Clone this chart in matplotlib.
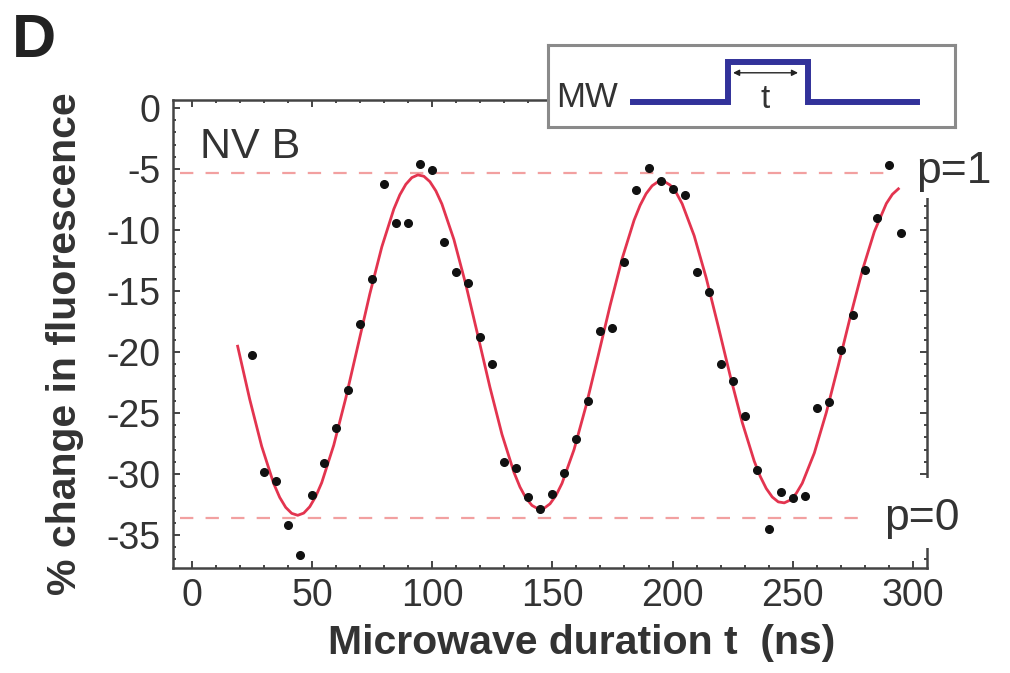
import matplotlib
matplotlib.use("Agg")
import matplotlib.pyplot as plt
from matplotlib.patches import Rectangle
from matplotlib.ticker import MultipleLocator

plt.rcParams['font.family'] = ['Liberation Sans', 'DejaVu Sans']
plt.rcParams['axes.unicode_minus'] = False

# measured points (microwave duration in ns, % change in fluorescence)
t_data = [25, 30, 35, 40, 45, 50, 55, 60, 65, 70, 75, 80, 85, 90, 95, 100,
          105, 110, 115, 120, 125, 130, 135, 140, 145, 150, 155, 160, 165,
          170, 175, 180, 185, 190, 195, 200, 205, 210, 215, 220, 225, 230,
          235, 240, 245, 250, 255, 260, 265, 270, 275, 280, 285, 290, 295]
f_data = [-20.2, -29.8, -30.6, -34.2, -36.6, -31.7, -29.1, -26.2, -23.1, -17.7,
          -14.0, -6.2, -9.4, -9.4, -4.6, -5.1, -11.0, -13.4, -14.3, -18.8,
          -21.0, -29.0, -29.5, -31.9, -32.9, -31.6, -29.9, -27.1, -24.0, -18.3,
          -18.0, -12.6, -6.7, -4.9, -6.0, -6.6, -7.1, -13.4, -15.1, -21.0,
          -22.4, -25.2, -29.7, -34.5, -31.5, -32.0, -31.8, -24.6, -24.1, -19.8,
          -17.0, -13.3, -9.0, -4.7, -10.2]

# fitted curve
t_fit = [19, 24, 29, 34, 36.5, 39, 41.5, 44, 46.5, 49, 51.5, 54, 59, 64, 69,
         74, 79, 84, 86.5, 89, 91.5, 94, 96.5, 99, 101.5, 104, 109, 114, 119,
         124, 129, 134, 136.5, 139, 141.5, 144, 146.5, 149, 151.5, 154, 159,
         164, 169, 174, 179, 184, 186.5, 189, 191.5, 194, 196.5, 199, 201.5,
         204, 209, 214, 219, 224, 229, 234, 236.5, 239, 241.5, 244, 246.5,
         249, 251.5, 254, 259, 264, 269, 274, 279, 284, 289, 291.5, 294]
f_fit = [-19.52, -23.85, -27.72, -30.78, -31.91, -32.73, -33.22, -33.38,
         -33.20, -32.68, -31.84, -30.70, -27.63, -23.78, -19.52, -15.24,
         -11.38, -8.28, -7.11, -6.25, -5.70, -5.48, -5.59, -6.03, -6.79,
         -7.86, -10.77, -14.49, -18.66, -22.88, -26.74, -29.86, -31.06,
         -31.97, -32.57, -32.85, -32.81, -32.44, -31.75, -30.76, -28.00,
         -24.41, -20.34, -16.20, -12.36, -9.19, -7.97, -7.02, -6.37, -6.03,
         -6.01, -6.31, -6.92, -7.84, -10.46, -13.91, -17.87, -21.95, -25.76,
         -28.94, -30.19, -31.18, -31.88, -32.28, -32.36, -32.13, -31.58,
         -30.75, -28.28, -24.96, -21.10, -17.10, -13.31, -10.12, -7.82,
         -7.07, -6.62]

p1_level = -5.3
p0_level = -33.6

# MW pulse sketch (schematic units)
pulse_t = [0, 95, 95, 175, 175, 284]
pulse_on = [0, 0, 1, 1, 0, 0]

txt = '#333333'
fig = plt.figure(figsize=(10.10, 6.73), dpi=100)
ax = fig.add_axes([0.1713, 0.156, 0.7465, 0.6954])

ax.hlines(p1_level, -5, 292, colors='#f2a0a0', lw=1.6, linestyles=(0, (6, 5.5)))
ax.hlines(p0_level, -5, 281, colors='#f2a0a0', lw=1.6, linestyles=(0, (6, 5.5)))
ax.plot(t_fit, f_fit, color='#e3344f', lw=2.0, zorder=3, solid_joinstyle='round')
ax.plot(t_data, f_data, 'o', color='#111111', ms=5.5, zorder=4)

ax.set_xlim(-7.9, 305.9)
ax.set_ylim(-37.7, 0.66)
ax.set_xticks([0, 50, 100, 150, 200, 250, 300])
ax.set_yticks([0, -5, -10, -15, -20, -25, -30, -35])
ax.xaxis.set_minor_locator(MultipleLocator(10))
ax.yaxis.set_minor_locator(MultipleLocator(1))
ax.tick_params(which='both', direction='in', top=True, right=True,
               color='#444444', width=1.4)
ax.tick_params(which='major', length=5, labelsize=27, labelcolor=txt)
ax.tick_params(which='minor', length=2.5)
ax.tick_params(axis='x', pad=7)
ax.tick_params(axis='y', pad=9)
for s in ax.spines.values():
    s.set_color('#444444')
    s.set_linewidth(1.8)

ax.set_xlabel('Microwave duration t  (ns)', fontsize=29.5, fontweight='bold', color=txt)
ax.set_ylabel('% change in fluorescence', fontsize=29.5, fontweight='bold', color=txt)
ax.xaxis.set_label_coords(0.542, -0.12)
ax.yaxis.set_label_coords(-0.118, 0.48)

# breaks in the right frame behind the p labels
ax.add_patch(Rectangle((0.975, 0.79), 0.05, 0.25, transform=ax.transAxes,
                       facecolor='white', edgecolor='none', clip_on=False, zorder=5))
ax.add_patch(Rectangle((0.975, 0.043), 0.05, 0.149, transform=ax.transAxes,
                       facecolor='white', edgecolor='none', clip_on=False, zorder=5))

ax.text(0.036, 0.876, 'NV B', transform=ax.transAxes, fontsize=31, color=txt)
ax.text(301.2, p1_level - 0.85, 'p=1', fontsize=32, color=txt, va='baseline',
        clip_on=False, zorder=6)
ax.text(288.0, p0_level - 1.0, 'p=0', fontsize=32, color=txt, va='baseline',
        clip_on=False, zorder=6)

fig.text(0.012, 0.915, 'D', fontsize=44, fontweight='bold', color='#222222')

# inset: microwave pulse sequence
ins = fig.add_axes([0.5426, 0.8113, 0.403, 0.1218], zorder=5)
ins.set_facecolor('white')
ins.plot(pulse_t, pulse_on, color='#32329a', lw=4.3, solid_joinstyle='miter')
ins.annotate('', xy=(100, 0.73), xytext=(165, 0.73),
             arrowprops=dict(arrowstyle='<|-|>', color='#222222', lw=1.0,
                             mutation_scale=9, shrinkA=0, shrinkB=0))
ins.text(132, 0.05, 't', fontsize=24, color=txt, ha='center', va='center')
ins.text(-46, 0.1, 'MW', fontsize=25, color=txt, ha='center', va='center')
ins.set_xlim(-85, 322)
ins.set_ylim(-0.625, 1.424)
ins.set_xticks([])
ins.set_yticks([])
for s in ins.spines.values():
    s.set_color('#8a8a8a')
    s.set_linewidth(2.2)

fig.savefig('out.png', dpi=100)
